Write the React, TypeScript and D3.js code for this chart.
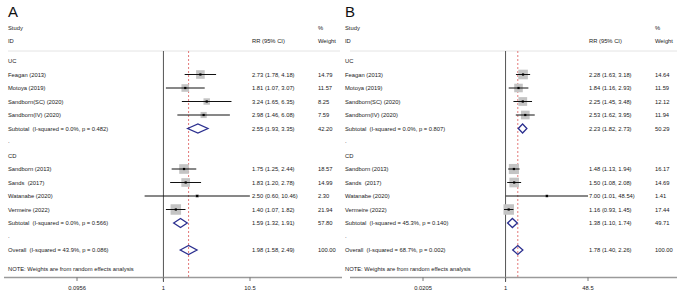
import React from "react";
import * as d3 from "d3";

// ---------- DATA ----------
const studiesUC = ["Feagan (2013)", "Motoya (2019)", "Sandborn(SC) (2020)", "Sandborn(IV) (2020)"];
const studiesCD = ["Sandborn (2013)", "Sands  (2017)", "Watanabe (2020)", "Vermeire (2022)"];

// Panel A
const rrA_UC = [2.73, 1.81, 3.24, 2.98];
const loA_UC = [1.78, 1.07, 1.65, 1.46];
const hiA_UC = [4.18, 3.07, 6.35, 6.08];
const wA_UC = [14.79, 11.57, 8.25, 7.59];
const rrA_CD = [1.75, 1.83, 2.5, 1.4];
const loA_CD = [1.25, 1.2, 0.6, 1.07];
const hiA_CD = [2.44, 2.78, 10.46, 1.82];
const wA_CD = [18.57, 14.99, 2.3, 21.94];
const subA = [
  { rr: 2.55, lo: 1.93, hi: 3.35, w: 42.2, i2: "0.0%", p: "0.482" },
  { rr: 1.59, lo: 1.32, hi: 1.91, w: 57.8, i2: "0.0%", p: "0.566" },
];
const overallA = { rr: 1.98, lo: 1.58, hi: 2.49, w: 100.0, i2: "43.9%", p: "0.086" };
const ticksA = [0.0956, 1, 10.5];
const tickLabelsA = ["0.0956", "1", "10.5"];

// Panel B
const rrB_UC = [2.28, 1.84, 2.25, 2.53];
const loB_UC = [1.63, 1.16, 1.45, 1.62];
const hiB_UC = [3.18, 2.93, 3.48, 3.95];
const wB_UC = [14.64, 11.59, 12.12, 11.94];
const rrB_CD = [1.48, 1.5, 7.0, 1.16];
const loB_CD = [1.13, 1.08, 1.01, 0.93];
const hiB_CD = [1.94, 2.08, 48.54, 1.45];
const wB_CD = [16.17, 14.69, 1.41, 17.44];
const subB = [
  { rr: 2.23, lo: 1.82, hi: 2.73, w: 50.29, i2: "0.0%", p: "0.807" },
  { rr: 1.38, lo: 1.1, hi: 1.74, w: 49.71, i2: "45.3%", p: "0.140" },
];
const overallB = { rr: 1.78, lo: 1.4, hi: 2.26, w: 100.0, i2: "68.7%", p: "0.002" };
const ticksB = [0.0205, 1, 48.5];
const tickLabelsB = ["0.0205", "1", "48.5"];

// ---------- STYLE ----------
const FONT = "'Liberation Sans', Arial, Helvetica, sans-serif";
const FS = 5.8;
const TXT = "#1a1a1a";
const NAVY = "#2b2f8f";

type Sum = { rr: number; lo: number; hi: number; w: number; i2: string; p: string };

const fmtCI = (rr: number, lo: number, hi: number) =>
  `${rr.toFixed(2)} (${lo.toFixed(2)}, ${hi.toFixed(2)})`;

function Panel(props: {
  x0: number;
  letter: string;
  rangeX: [number, number];
  ticks: number[];
  tickLabels: string[];
  rrUC: number[]; loUC: number[]; hiUC: number[]; wUC: number[];
  rrCD: number[]; loCD: number[]; hiCD: number[]; wCD: number[];
  sub: Sum[];
  overall: Sum;
  axisX: [number, number];
  headX: [number, number];
}) {
  const { x0, letter, rangeX, ticks, tickLabels, sub, overall } = props;
  const x = d3.scaleLog().domain([ticks[0], ticks[ticks.length - 1]]).range(rangeX);
  const row = d3.scaleLinear().domain([0, 14]).range([61, 250]);
  const labelX = x0 + 8;
  const ciX = x0 + 252;
  const wX = x0 + 318;
  const axisY = 277.5;
  const maxW = Math.max(...props.wUC, ...props.wCD);
  const boxSide = (w: number) => 10.5 * Math.sqrt(w / maxW);

  const groups = [
    { name: "UC", studies: studiesUC, rr: props.rrUC, lo: props.loUC, hi: props.hiUC, w: props.wUC, start: 0 },
    { name: "CD", studies: studiesCD, rr: props.rrCD, lo: props.loCD, hi: props.hiCD, w: props.wCD, start: 7 },
  ];

  const txt = (xx: number, yy: number, s: string) => (
    <text x={xx} y={yy} fontSize={FS} fill={TXT} fontFamily={FONT} dominantBaseline="central"
      style={{ whiteSpace: "pre" }}>{s}</text>
  );

  const diamond = (s: Sum, yy: number) => {
    const h = 4.5;
    const pts = [
      [x(s.lo), yy], [x(s.rr), yy - h], [x(s.hi), yy], [x(s.rr), yy + h],
    ];
    return <polygon points={pts.map((p) => p.join(",")).join(" ")} fill="none" stroke={NAVY} strokeWidth={1.3} />;
  };

  return (
    <g>
      <text x={x0 + 8} y={17} fontSize={15} fontFamily={FONT} fill="#111">{letter}</text>
      {txt(labelX, 28, "Study")}
      {txt(labelX, 41, "ID")}
      {txt(ciX, 41, "RR (95% CI)")}
      {txt(wX, 28, "%")}
      {txt(wX, 41, "Weight")}
      <line x1={props.headX[0]} x2={props.headX[1]} y1={51} y2={51} stroke="#e4e4e4" strokeWidth={1} />

      {/* null line */}
      <line x1={x(1)} x2={x(1)} y1={51} y2={282} stroke="#555" strokeWidth={1} />
      {/* overall dashed */}
      <line x1={x(overall.rr)} x2={x(overall.rr)} y1={51} y2={277} stroke="#e06a6a" strokeWidth={0.9} strokeDasharray="2,2" />

      {groups.map((g, gi) => (
        <g key={g.name}>
          {txt(labelX, row(g.start), g.name)}
          {g.studies.map((s, i) => {
            const yy = row(g.start + 1 + i);
            const side = boxSide(g.w[i]);
            return (
              <g key={s}>
                {txt(labelX, yy, s)}
                <rect x={x(g.rr[i]) - side / 2} y={yy - side / 2} width={side} height={side} fill="#c4c4c4" />
                <line x1={x(g.lo[i])} x2={x(g.hi[i])} y1={yy} y2={yy} stroke="#111" strokeWidth={1} />
                <rect x={x(g.rr[i]) - 1.1} y={yy - 1.1} width={2.2} height={2.2} fill="#000" />
                {txt(ciX, yy, fmtCI(g.rr[i], g.lo[i], g.hi[i]))}
                {txt(wX, yy, g.w[i].toFixed(2))}
              </g>
            );
          })}
          {txt(labelX, row(g.start + 5), `Subtotal  (I-squared = ${sub[gi].i2}, p = ${sub[gi].p})`)}
          {diamond(sub[gi], row(g.start + 5))}
          {txt(ciX, row(g.start + 5), fmtCI(sub[gi].rr, sub[gi].lo, sub[gi].hi))}
          {txt(wX, row(g.start + 5), sub[gi].w.toFixed(2))}
          {txt(labelX, row(g.start + 6) - 1, ".")}
        </g>
      ))}

      {txt(labelX, row(14), `Overall  (I-squared = ${overall.i2}, p = ${overall.p})`)}
      {diamond(overall, row(14))}
      {txt(ciX, row(14), fmtCI(overall.rr, overall.lo, overall.hi))}
      {txt(wX, row(14), overall.w.toFixed(2))}
      {txt(labelX, 269, "NOTE: Weights are from random effects analysis")}

      {/* axis */}
      <line x1={props.axisX[0]} x2={props.axisX[1]} y1={axisY} y2={axisY} stroke="#9a9a9a" strokeWidth={1.5} />
      {ticks.map((t, i) => (
        <g key={i}>
          <line x1={x(t)} x2={x(t)} y1={axisY} y2={axisY + 3.5} stroke="#555" strokeWidth={0.8} />
          <text x={x(t)} y={288} fontSize={FS} fill={TXT} fontFamily={FONT} textAnchor="middle" dominantBaseline="central">
            {tickLabels[i]}
          </text>
        </g>
      ))}
    </g>
  );
}

export default function App() {
  return (
    <svg width={677} height={294} style={{ position: "absolute", left: 0, top: 0, background: "#fff" }}>
      <rect width={677} height={294} fill="#fff" />
      <Panel x0={0} letter="A" rangeX={[77, 250]} ticks={ticksA} tickLabels={tickLabelsA}
        rrUC={rrA_UC} loUC={loA_UC} hiUC={hiA_UC} wUC={wA_UC}
        rrCD={rrA_CD} loCD={loA_CD} hiCD={hiA_CD} wCD={wA_CD}
        sub={subA} overall={overallA} axisX={[4, 342]} headX={[8, 340]} />
      <Panel x0={337} letter="B" rangeX={[423, 588]} ticks={ticksB} tickLabels={tickLabelsB}
        rrUC={rrB_UC} loUC={loB_UC} hiUC={hiB_UC} wUC={wB_UC}
        rrCD={rrB_CD} loCD={loB_CD} hiCD={hiB_CD} wCD={wB_CD}
        sub={subB} overall={overallB} axisX={[350, 677]} headX={[350, 677]} />
    </svg>
  );
}
